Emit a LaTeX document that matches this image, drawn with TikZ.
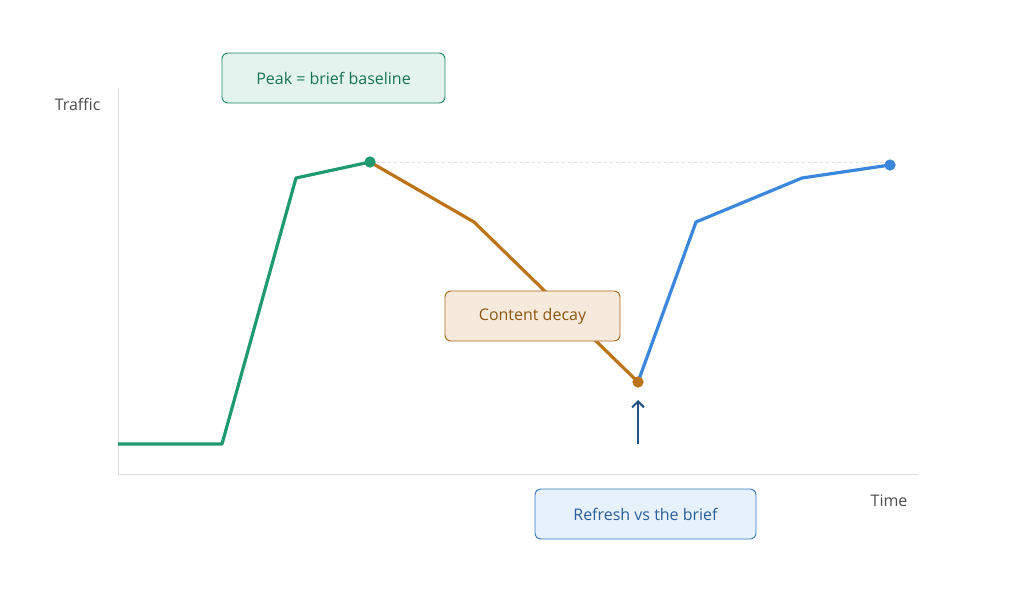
\documentclass[tikz,border=0pt]{standalone}
\usepackage{fontspec}
\usetikzlibrary{arrows.meta}
\setmainfont{Open Sans}
\definecolor{grn}{HTML}{1F9A6E}
\definecolor{org}{HTML}{BD7418}
\definecolor{blu}{HTML}{3A87DB}
\definecolor{axis}{HTML}{DDDDDD}
\tikzset{
  lbl/.style={rounded corners=6pt, minimum height=50pt, line width=0.9pt, font=\fontsize{16}{19}\selectfont, inner xsep=12pt},
  curve/.style={line width=3.2pt, line join=round},
  dot/.style={circle, fill=#1, inner sep=0pt, minimum size=11pt}
}
\begin{document}
\begin{tikzpicture}[x=1pt,y=-1pt]
  \useasboundingbox (0,0) rectangle (1024,608);
  % axes
  \draw[axis, line width=1pt] (118,88) -- (118,474) -- (918,474);
  \node[anchor=east, text=black!70, font=\fontsize{16}{19}\selectfont] (ylab) at (104,104) {Traffic};
  \node[anchor=east, text=black!70, font=\fontsize{16}{19}\selectfont] (xlab) at (911,501) {Time};
  % points
  \coordinate (p0) at (118,444);
  \coordinate (p1) at (222,444);
  \coordinate (p2) at (296,178);
  \node[dot=grn] (peak) at (370,162) {};
  \coordinate (p4) at (474,222);
  \node[dot=org] (low) at (638,382) {};
  \coordinate (p6) at (696,222);
  \coordinate (p7) at (802,178);
  \node[dot=blu] (end) at (890,165) {};
  \draw[dashed, black!12, line width=1pt] (peak) -- (890,162);
  % curves
  \draw[curve, grn] (p0) -- (p1) -- (p2) -- (peak.center);
  \draw[curve, org] (peak.center) -- (p4) -- (low.center);
  \draw[curve, blu] (low.center) -- (p6) -- (p7) -- (end.center);
  \node[dot=grn] at (peak) {};
  \node[dot=org] at (low) {};
  \node[dot=blu] at (end) {};
  % labels
  \node[lbl, draw=grn!90!black, fill=grn!12, text=grn!75!black, minimum width=223pt] (peaklbl) at (333.5,78) {Peak = brief baseline};
  \node[lbl, draw=org!90!black, fill=org!15, text=org!75!black, minimum width=175pt] (decay) at (532.5,316) {Content decay};
  \node[lbl, draw=blu!90!black, fill=blu!12, text=blu!70!black, minimum width=221pt] (refresh) at (645.5,514) {Refresh vs the brief};
  \coordinate (arr) at (638,444);
  \draw[-{Straight Barb[length=6pt,width=12pt]}, line width=2pt, blu!60!black] (arr) -- (638,400);
\end{tikzpicture}
\end{document}
